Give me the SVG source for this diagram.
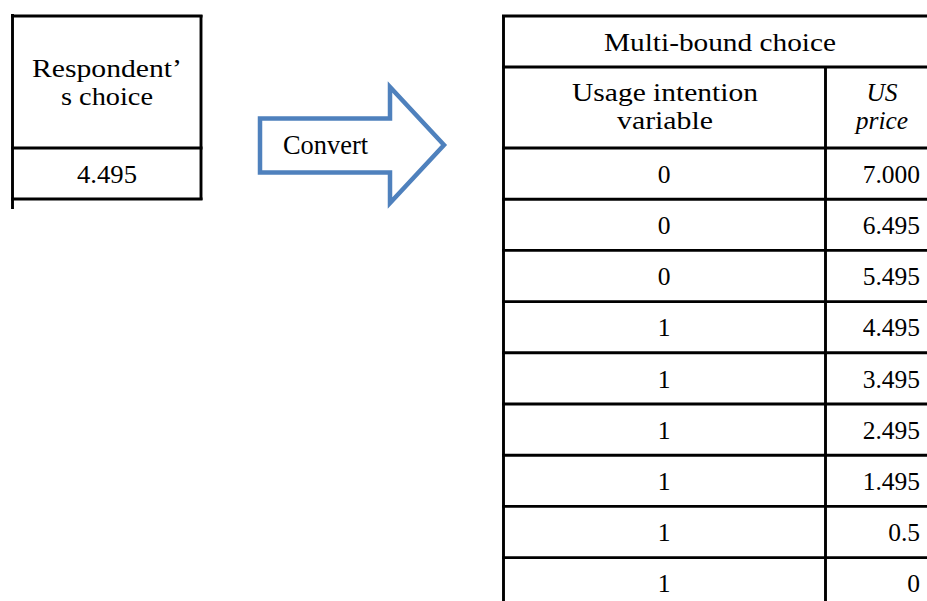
<svg xmlns="http://www.w3.org/2000/svg" width="927" height="601" viewBox="0 0 927 601">
  <style>
    .rule { stroke: #000; stroke-width: 2.9; fill: none; }
    .t { font-family: "Liberation Serif", "Times New Roman", serif; font-size: 25.5px; fill: #000; }
    .c { text-anchor: middle; }
    .r { text-anchor: end; }
    .i { font-style: italic; }
    .arrow { fill: #fff; stroke: #4F81BD; stroke-width: 4.5; stroke-linejoin: miter; }
  </style>
  <rect width="927" height="601" fill="#fff"/>

  <!-- Single-response table -->
  <g id="respondent-table">
    <line class="rule" x1="12.5" y1="14" x2="12.5" y2="209"/>
    <line class="rule" x1="201" y1="15" x2="201" y2="200"/>
    <line class="rule" x1="11" y1="16" x2="202.5" y2="16"/>
    <line class="rule" x1="11" y1="148" x2="202.5" y2="148"/>
    <line class="rule" x1="11" y1="199" x2="202.5" y2="199"/>
    <text class="t c" x="107" y="77" textLength="150" lengthAdjust="spacingAndGlyphs">Respondent’</text>
    <text class="t c" x="107" y="105" textLength="92" lengthAdjust="spacingAndGlyphs">s choice</text>
    <text class="t c" x="107" y="183" textLength="60" lengthAdjust="spacingAndGlyphs">4.495</text>
  </g>

  <!-- Block arrow -->
  <g id="convert-arrow">
    <path class="arrow" d="M260,118.5 H390 V87 L444,145 L390,203 V172.5 H260 Z"/>
    <text x="283" y="154" textLength="85" lengthAdjust="spacingAndGlyphs" style="font-family: 'Liberation Serif', 'Times New Roman', serif; font-size: 26.5px; fill: #000;">Convert</text>
  </g>

  <!-- Multi-bound choice table -->
  <g id="multi-bound-table">
    <line class="rule" x1="503.5" y1="15" x2="503.5" y2="601"/>
    <line class="rule" x1="825.5" y1="67" x2="825.5" y2="601"/>
    <line class="rule" x1="502" y1="16" x2="927" y2="16"/>
    <line class="rule" x1="502" y1="67" x2="927" y2="67"/>
    <line class="rule" x1="502" y1="148" x2="927" y2="148"/>
    <line class="rule" x1="502" y1="199.2" x2="927" y2="199.2"/>
    <line class="rule" x1="502" y1="250.4" x2="927" y2="250.4"/>
    <line class="rule" x1="502" y1="301.6" x2="927" y2="301.6"/>
    <line class="rule" x1="502" y1="352.8" x2="927" y2="352.8"/>
    <line class="rule" x1="502" y1="404" x2="927" y2="404"/>
    <line class="rule" x1="502" y1="455.2" x2="927" y2="455.2"/>
    <line class="rule" x1="502" y1="506.4" x2="927" y2="506.4"/>
    <line class="rule" x1="502" y1="557.6" x2="927" y2="557.6"/>

    <text class="t c" x="720" y="51" textLength="232" lengthAdjust="spacingAndGlyphs">Multi-bound choice</text>
    <text class="t c" x="665" y="101" textLength="186" lengthAdjust="spacingAndGlyphs">Usage intention</text>
    <text class="t c" x="665" y="129" textLength="96" lengthAdjust="spacingAndGlyphs">variable</text>
    <text class="t c i" x="882" y="101">US</text>
    <text class="t c i" x="882" y="129">price</text>

    <text class="t c" x="664" y="183">0</text><text class="t r" x="920" y="183">7.000</text>
    <text class="t c" x="664" y="234">0</text><text class="t r" x="920" y="234">6.495</text>
    <text class="t c" x="664" y="285">0</text><text class="t r" x="920" y="285">5.495</text>
    <text class="t c" x="664" y="336">1</text><text class="t r" x="920" y="336">4.495</text>
    <text class="t c" x="664" y="388">1</text><text class="t r" x="920" y="388">3.495</text>
    <text class="t c" x="664" y="439">1</text><text class="t r" x="920" y="439">2.495</text>
    <text class="t c" x="664" y="490">1</text><text class="t r" x="920" y="490">1.495</text>
    <text class="t c" x="664" y="541">1</text><text class="t r" x="920" y="541">0.5</text>
    <text class="t c" x="664" y="592">1</text><text class="t r" x="920" y="592">0</text>
  </g>
</svg>
